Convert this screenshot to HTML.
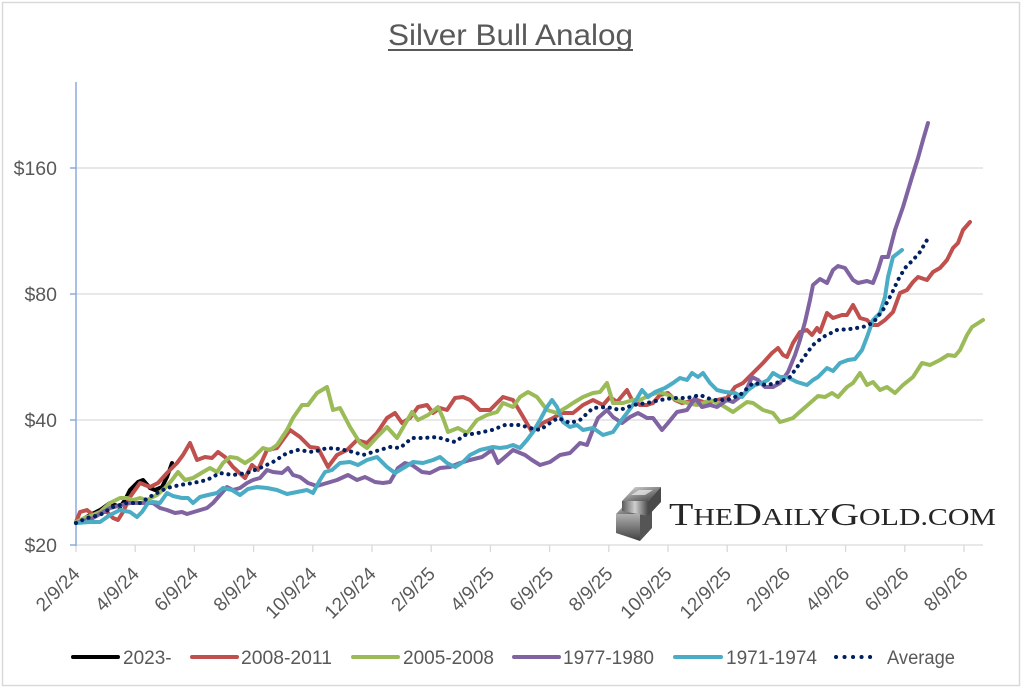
<!DOCTYPE html>
<html><head><meta charset="utf-8"><style>
html,body{margin:0;padding:0;background:#fff;}
svg{display:block;}
text{font-family:"Liberation Sans",sans-serif;fill:#595959;}
</style></head><body>
<svg width="1024" height="689" viewBox="0 0 1024 689" xmlns="http://www.w3.org/2000/svg">
<defs>
<linearGradient id="g1" x1="0" y1="0" x2="1" y2="1"><stop offset="0" stop-color="#e8e8e8"/><stop offset="0.5" stop-color="#8a8a8a"/><stop offset="1" stop-color="#3a3a3a"/></linearGradient>
<linearGradient id="g2" x1="0" y1="0" x2="1" y2="0"><stop offset="0" stop-color="#5a5a5a"/><stop offset="0.5" stop-color="#cfcfcf"/><stop offset="1" stop-color="#4a4a4a"/></linearGradient>
<linearGradient id="g3" x1="0" y1="0" x2="0" y2="1"><stop offset="0" stop-color="#b0b0b0"/><stop offset="1" stop-color="#404040"/></linearGradient>
</defs>
<rect x="0" y="0" width="1024" height="689" fill="#fff"/>
<rect x="2.5" y="2.5" width="1017" height="683" fill="none" stroke="#d9d9d9" stroke-width="1.5"/>

<!-- title -->
<text x="388" y="45" font-size="30" textLength="245" lengthAdjust="spacingAndGlyphs">Silver Bull Analog</text>
<line x1="388" y1="50" x2="633" y2="50" stroke="#595959" stroke-width="2"/>

<!-- gridlines -->
<g stroke="#d9d9d9" stroke-width="1.3">
<line x1="76" y1="168" x2="983" y2="168"/>
<line x1="76" y1="294" x2="983" y2="294"/>
<line x1="76" y1="420" x2="983" y2="420"/>
<line x1="76" y1="545" x2="983" y2="545"/>
</g>
<!-- x ticks -->
<g stroke="#d9d9d9" stroke-width="1.3">
<line x1="76" y1="545" x2="76" y2="552"/><line x1="135.2" y1="545" x2="135.2" y2="552"/><line x1="194.4" y1="545" x2="194.4" y2="552"/><line x1="253.6" y1="545" x2="253.6" y2="552"/><line x1="312.8" y1="545" x2="312.8" y2="552"/><line x1="372" y1="545" x2="372" y2="552"/><line x1="431.2" y1="545" x2="431.2" y2="552"/><line x1="490.4" y1="545" x2="490.4" y2="552"/><line x1="549.6" y1="545" x2="549.6" y2="552"/><line x1="608.8" y1="545" x2="608.8" y2="552"/><line x1="668" y1="545" x2="668" y2="552"/><line x1="727.2" y1="545" x2="727.2" y2="552"/><line x1="786.4" y1="545" x2="786.4" y2="552"/><line x1="845.6" y1="545" x2="845.6" y2="552"/><line x1="904.8" y1="545" x2="904.8" y2="552"/><line x1="964" y1="545" x2="964" y2="552"/>
</g>
<!-- y axis -->
<g stroke="#8eaadb" stroke-width="1.5">
<line x1="76" y1="82" x2="76" y2="546"/>
<line x1="70" y1="168" x2="76" y2="168"/><line x1="70" y1="294" x2="76" y2="294"/><line x1="70" y1="420" x2="76" y2="420"/><line x1="70" y1="545" x2="76" y2="545"/>
</g>
<g font-size="19.5" text-anchor="end">
<text x="57" y="175">$160</text><text x="57" y="301">$80</text><text x="57" y="427">$40</text><text x="57" y="552">$20</text>
</g>
<!-- x labels -->
<g font-size="19" text-anchor="end">
<text transform="translate(81,575) rotate(-45)">2/9/24</text>
<text transform="translate(140.2,575) rotate(-45)">4/9/24</text>
<text transform="translate(199.4,575) rotate(-45)">6/9/24</text>
<text transform="translate(258.6,575) rotate(-45)">8/9/24</text>
<text transform="translate(317.8,575) rotate(-45)">10/9/24</text>
<text transform="translate(377,575) rotate(-45)">12/9/24</text>
<text transform="translate(436.2,575) rotate(-45)">2/9/25</text>
<text transform="translate(495.4,575) rotate(-45)">4/9/25</text>
<text transform="translate(554.6,575) rotate(-45)">6/9/25</text>
<text transform="translate(613.8,575) rotate(-45)">8/9/25</text>
<text transform="translate(673,575) rotate(-45)">10/9/25</text>
<text transform="translate(732.2,575) rotate(-45)">12/9/25</text>
<text transform="translate(791.4,575) rotate(-45)">2/9/26</text>
<text transform="translate(850.6,575) rotate(-45)">4/9/26</text>
<text transform="translate(909.8,575) rotate(-45)">6/9/26</text>
<text transform="translate(969,575) rotate(-45)">8/9/26</text>
</g>

<!-- watermark -->
<g>
<polygon points="616,514 628,501 652,501 640,514" fill="url(#g1)"/>
<polygon points="616,514 640,514 640,541 616,533" fill="url(#g3)"/>
<polygon points="640,514 652,501 652,528 640,541" fill="#555"/>
<polygon points="622,501 635,487 661,487 648,501" fill="url(#g1)"/>
<polygon points="622,501 648,501 648,516 622,511" fill="url(#g2)"/>
<polygon points="648,501 661,487 661,502 648,516" fill="#4a4a4a"/>
<polygon points="631,495 639,490 653,490 645,495" fill="#f0f0f0" opacity="0.7"/>
</g>
<text x="669" y="525" style="font-family:'Liberation Serif',serif;fill:#262626" textLength="327" lengthAdjust="spacingAndGlyphs"><tspan font-size="32">T</tspan><tspan font-size="24">HE</tspan><tspan font-size="32">D</tspan><tspan font-size="24">AILY</tspan><tspan font-size="32">G</tspan><tspan font-size="24">OLD.COM</tspan></text>

<!-- series (Excel draw order: 2023-, 2008-2011, 2005-2008, 1977-1980, 1971-1974, Average) -->
<g fill="none" stroke-width="4" stroke-linejoin="round" stroke-linecap="round">
<polyline stroke="#000000" points="76,523 90,515 100,510 103,508 110,503 120,507 125,500 130,490 138,482 143,480 150,488 155,490 162,487 167,477 172,463"/>
<polyline stroke="#c0504d" points="76,522 80,512 87,510 93,515 100,512 107,512 113,518 118,520 123,512 130,497 140,483 150,487 158,483 167,473 177,463 183,455 190,443 197,460 205,457 212,458 218,452 225,457 233,467 245,478 252,465 258,470 267,450 277,448 290,430 300,437 310,447 318,448 328,467 337,455 347,450 357,440 367,443 377,433 387,418 395,413 402,423 410,418 418,407 427,405 433,413 440,408 447,410 455,398 463,397 470,400 480,410 490,410 503,397 513,400 522,415 532,432 543,423 553,418 562,413 573,413 583,405 593,400 603,405 610,397 617,402 627,390 632,400 640,405 647,405 653,403 660,395 668,393 675,400 682,403 687,402 697,400 707,403 717,400 727,398 735,387 743,383 753,373 763,363 772,353 778,348 783,355 787,357 793,343 800,332 807,330 812,335 817,328 820,332 827,313 833,318 842,315 847,315 853,305 860,318 867,320 872,325 878,325 885,320 893,312 900,293 907,290 913,282 918,277 927,280 933,272 940,268 947,260 953,248 958,243 963,230 970,222"/>
<polyline stroke="#9bbb59" points="76,522 87,517 93,515 100,512 110,503 120,498 127,498 133,500 140,498 147,500 157,495 165,488 172,480 178,472 185,480 193,478 203,472 210,468 217,472 223,463 230,457 237,458 245,463 253,458 263,448 270,450 277,445 287,430 293,418 302,405 308,405 317,393 327,387 333,410 340,408 350,427 360,443 367,448 377,437 387,427 397,438 412,412 418,420 428,415 438,407 443,418 448,432 458,428 467,433 477,420 487,415 497,412 503,403 513,407 520,397 528,392 537,397 547,410 557,413 567,407 573,403 583,397 593,393 600,392 607,383 613,403 623,403 633,400 640,400 650,395 660,392 668,395 677,400 687,403 697,405 703,403 710,400 718,403 725,407 733,412 740,407 747,402 753,403 763,410 773,413 780,422 787,420 793,418 802,410 810,403 818,396 825,397 832,393 838,397 847,387 853,383 860,373 867,385 873,382 880,390 887,387 895,393 903,385 913,377 922,363 930,365 940,360 948,355 955,356 960,350 967,335 972,327 983,320"/>
<polyline stroke="#8064a2" points="76,523 93,518 110,508 130,503 143,503 153,503 160,508 167,510 175,513 182,512 187,514 197,511 207,508 213,503 220,495 227,487 233,490 240,488 247,483 253,480 260,478 267,470 273,472 282,473 288,468 293,475 300,477 308,483 317,486 327,483 337,480 348,475 357,480 365,477 375,482 383,483 390,482 398,468 405,463 412,465 422,472 430,473 440,468 450,467 460,463 470,460 482,457 492,450 498,463 505,457 513,450 525,455 532,460 540,465 550,462 560,455 570,453 580,443 587,445 592,432 598,418 607,410 613,417 622,423 630,417 638,413 647,418 653,418 662,430 668,423 677,412 687,410 695,398 702,407 710,405 717,407 727,400 733,402 745,393 752,377 758,380 765,387 773,387 780,383 788,372 795,355 800,340 805,322 810,300 813,285 820,279 827,283 833,270 838,266 845,268 853,280 858,283 867,281 873,283 878,270 882,257 888,257 895,230 903,207 912,177 918,158 923,140 928,123"/>
<polyline stroke="#4bacc6" points="76,523 90,522 100,522 110,515 120,510 130,512 137,517 142,512 148,503 153,502 160,503 167,493 173,496 182,498 188,498 193,503 200,497 208,495 217,493 223,488 232,490 240,495 248,489 257,487 267,488 277,490 287,494 297,492 307,490 313,493 320,480 325,472 332,470 340,463 350,462 358,465 367,460 377,457 387,467 395,473 405,467 413,462 423,463 433,460 440,457 447,463 455,467 463,462 470,455 480,450 493,447 500,448 507,447 513,445 520,448 527,440 533,432 540,420 547,407 552,400 557,407 563,422 570,427 577,425 583,430 593,428 603,435 613,432 620,422 627,413 635,402 642,390 648,397 655,392 665,388 673,383 680,378 687,380 692,373 698,377 703,373 710,383 717,390 725,392 735,393 742,397 748,390 755,385 762,383 768,380 773,373 780,377 787,377 797,382 807,385 813,380 818,377 827,368 833,371 840,363 848,360 855,359 862,350 867,337 873,320 880,313 885,297 888,277 893,257 902,250"/>
<polyline stroke="#002060" stroke-width="4" stroke-dasharray="0.1 6.7" points="76,523 87,518 100,515 113,507 127,503 140,503 153,495 167,488 180,485 193,483 207,480 220,473 233,475 247,473 260,468 273,462 287,453 298,450 313,452 327,448 340,449 353,452 363,455 373,452 390,447 400,448 412,438 423,438 437,437 447,440 455,442 465,435 478,433 492,430 505,425 520,425 530,428 540,430 550,423 558,418 570,423 580,420 593,408 607,407 620,410 633,405 647,403 660,400 673,398 687,398 700,395 713,400 727,400 740,395 753,383 767,385 780,382 790,377 800,363 807,353 813,345 823,337 837,330 850,329 863,327 873,323 883,310 892,293 898,280 905,268 913,260 920,252 927,240"/>
</g>

<!-- legend -->
<g stroke-width="4" stroke-linecap="round">
<line x1="73" y1="657" x2="118" y2="657" stroke="#000"/>
<line x1="192" y1="657" x2="237" y2="657" stroke="#c0504d"/>
<line x1="353" y1="657" x2="398" y2="657" stroke="#9bbb59"/>
<line x1="514" y1="657" x2="559" y2="657" stroke="#8064a2"/>
<line x1="675" y1="657" x2="721" y2="657" stroke="#4bacc6"/>
<line x1="836" y1="657" x2="878" y2="657" stroke="#002060" stroke-dasharray="0.1 8.4"/>
</g>
<g font-size="19">
<text x="123" y="664">2023-</text>
<text x="241" y="664" textLength="91" lengthAdjust="spacingAndGlyphs">2008-2011</text>
<text x="403" y="664" textLength="91" lengthAdjust="spacingAndGlyphs">2005-2008</text>
<text x="563" y="664" textLength="91" lengthAdjust="spacingAndGlyphs">1977-1980</text>
<text x="726" y="664" textLength="91" lengthAdjust="spacingAndGlyphs">1971-1974</text>
<text x="887" y="664" textLength="68" lengthAdjust="spacingAndGlyphs">Average</text>
</g>
</svg>
</body></html>
